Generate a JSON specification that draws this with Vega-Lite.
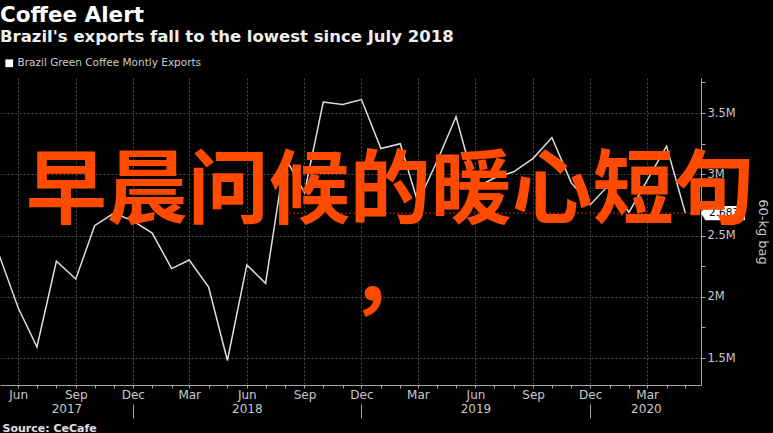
{
  "$schema": "https://vega.github.io/schema/vega-lite/v6.json",
  "width": 701,
  "height": 307,
  "autosize": {"type": "none"},
  "padding": {"left": 0, "top": 78, "right": 72, "bottom": 48},
  "background": "#000000",
  "config": {
    "view": {"stroke": null},
    "font": "DejaVu Sans",
    "axis": {"labelFont": "DejaVu Sans", "titleFont": "DejaVu Sans"}
  },
  "title": {
    "text": "Coffee Alert",
    "subtitle": "Brazil's exports fall to the lowest since July 2018",
    "anchor": "start",
    "frame": "group",
    "font": "DejaVu Sans",
    "fontSize": 21.5,
    "fontWeight": "bold",
    "color": "#ffffff",
    "subtitleFont": "DejaVu Sans",
    "subtitleFontSize": 16.5,
    "subtitleFontWeight": "bold",
    "subtitleColor": "#eeeeee",
    "subtitlePadding": 2,
    "offset": 13
  },
  "datasets": {
    "exports": [
      {"date": "2017-05-01", "bags": 2350000},
      {"date": "2017-06-01", "bags": 1910000},
      {"date": "2017-07-01", "bags": 1590000},
      {"date": "2017-08-01", "bags": 2290000},
      {"date": "2017-09-01", "bags": 2145000},
      {"date": "2017-10-01", "bags": 2580000},
      {"date": "2017-11-01", "bags": 2684000},
      {"date": "2017-12-01", "bags": 2620000},
      {"date": "2018-01-01", "bags": 2520000},
      {"date": "2018-02-01", "bags": 2230000},
      {"date": "2018-03-01", "bags": 2300000},
      {"date": "2018-04-01", "bags": 2080000},
      {"date": "2018-05-01", "bags": 1480000},
      {"date": "2018-06-01", "bags": 2260000},
      {"date": "2018-07-01", "bags": 2110000},
      {"date": "2018-08-01", "bags": 3140000},
      {"date": "2018-09-01", "bags": 2850000},
      {"date": "2018-10-01", "bags": 3590000},
      {"date": "2018-11-01", "bags": 3570000},
      {"date": "2018-12-01", "bags": 3610000},
      {"date": "2019-01-01", "bags": 3210000},
      {"date": "2019-02-01", "bags": 3250000},
      {"date": "2019-03-01", "bags": 2770000},
      {"date": "2019-04-01", "bags": 3110000},
      {"date": "2019-05-01", "bags": 3470000},
      {"date": "2019-06-01", "bags": 2890000},
      {"date": "2019-07-01", "bags": 2970000},
      {"date": "2019-08-01", "bags": 3020000},
      {"date": "2019-09-01", "bags": 3130000},
      {"date": "2019-10-01", "bags": 3300000},
      {"date": "2019-11-01", "bags": 2930000},
      {"date": "2019-12-01", "bags": 2750000},
      {"date": "2020-01-01", "bags": 2920000},
      {"date": "2020-02-01", "bags": 2690000},
      {"date": "2020-03-01", "bags": 2950000},
      {"date": "2020-04-01", "bags": 3230000},
      {"date": "2020-05-01", "bags": 2683000}
    ]
  },
  "layer": [
    {
      "data": {"name": "exports"},
      "mark": {"type": "line", "clip": true, "strokeWidth": 1.5},
      "encoding": {
        "x": {
          "field": "date",
          "type": "temporal",
          "scale": {
            "type": "utc",
            "domain": [
              {"year": 2017, "month": 5, "date": 3, "utc": true},
              {"year": 2020, "month": 5, "date": 26, "utc": true}
            ]
          },
          "axis": {
            "orient": "bottom",
            "tickCount": {"interval": "month", "step": 1},
            "labelExpr": "utcmonth(datum.value) % 3 == 2 ? utcFormat(datum.value, '%b') : ''",
            "grid": true,
            "gridOpacity": {"condition": {"test": "utcmonth(datum.value) % 3 == 2", "value": 1}, "value": 0},
            "gridColor": "#4a4a4a",
            "gridDash": [2, 2],
            "domainColor": "#a8a8a8",
            "tickColor": "#a8a8a8",
            "tickSize": 3,
            "labelColor": "#c8c8c8",
            "labelFontSize": 12,
            "labelPadding": 1,
            "labelFlush": false,
            "labelOverlap": false,
            "labelBound": false,
            "title": null
          }
        },
        "y": {
          "field": "bags",
          "type": "quantitative",
          "scale": {"domain": [1280000, 3786000], "zero": false, "nice": false},
          "axis": {
            "orient": "right",
            "values": [1500000, 1750000, 2000000, 2250000, 2500000, 2750000, 3000000, 3250000, 3500000, 3750000],
            "format": "~s",
            "labelExpr": "datum.value % 500000 == 0 ? datum.label : ''",
            "grid": true,
            "gridOpacity": {"condition": {"test": "datum.value % 500000 == 0", "value": 1}, "value": 0},
            "gridColor": "#4a4a4a",
            "gridDash": [2, 2],
            "domainColor": "#a8a8a8",
            "tickColor": "#a8a8a8",
            "tickSize": 4,
            "labelColor": "#c8c8c8",
            "labelFontSize": 11.5,
            "labelPadding": 2,
            "labelOverlap": false,
            "title": "60-kg bag",
            "titleAngle": 90,
            "titleColor": "#c8c8c8",
            "titleFontSize": 13,
            "titleFontWeight": "normal",
            "titlePadding": 20
          }
        },
        "color": {
          "datum": "Brazil Green Coffee Montly Exports",
          "type": "nominal",
          "scale": {"range": ["#dedede"]},
          "legend": {
            "orient": "none",
            "legendX": 4,
            "legendY": -20,
            "title": null,
            "labelColor": "#cccccc",
            "labelFont": "DejaVu Sans",
            "labelFontSize": 10.5,
            "labelLimit": 400,
            "labelOffset": 3,
            "padding": 0,
            "symbolType": "square",
            "symbolSize": 60,
            "symbolStrokeWidth": 0,
            "symbolFillColor": "#ffffff",
            "symbolStrokeColor": "#ffffff"
          }
        }
      }
    },
    {
      "data": {"values": [{}]},
      "mark": {"type": "rule", "color": "#a01818", "strokeWidth": 1.2, "strokeDash": [2, 2]},
      "encoding": {
        "x": {
          "datum": {"year": 2018, "month": 8, "date": 1, "utc": true},
          "type": "temporal",
          "axis": {
            "orient": "bottom",
            "values": [
              {"year": 2017, "month": 8, "date": 17, "utc": true},
              {"year": 2018, "month": 6, "date": 1, "utc": true},
              {"year": 2019, "month": 6, "date": 1, "utc": true},
              {"year": 2020, "month": 2, "date": 28, "utc": true}
            ],
            "labelExpr": "utcFormat(datum.value, '%Y')",
            "domain": false,
            "ticks": false,
            "tickSize": 0,
            "grid": false,
            "labelPadding": 18,
            "labelFontSize": 12,
            "labelColor": "#c8c8c8",
            "labelFlush": false,
            "labelOverlap": false,
            "title": null
          }
        },
        "x2": {"datum": {"year": 2020, "month": 5, "date": 26, "utc": true}},
        "y": {"datum": 2683000, "type": "quantitative", "axis": null}
      }
    },
    {
      "data": {"values": [{}]},
      "mark": {
        "type": "point",
        "shape": "M 0 0 L 0.1 -0.16 L 1 -0.16 L 1 0.16 L 0.1 0.16 Z",
        "filled": true,
        "color": "#ffffff",
        "opacity": 1,
        "size": 7744
      },
      "encoding": {
        "x": {
          "datum": {"year": 2020, "month": 5, "date": 26, "utc": true},
          "type": "temporal",
          "axis": {
            "orient": "bottom",
            "values": [
              {"year": 2017, "month": 12, "date": 1, "utc": true},
              {"year": 2018, "month": 12, "date": 1, "utc": true},
              {"year": 2019, "month": 12, "date": 1, "utc": true}
            ],
            "labels": false,
            "domain": false,
            "ticks": true,
            "tickSize": 14,
            "tickColor": "#a8a8a8",
            "offset": 19,
            "grid": false,
            "title": "Source: CeCafe",
            "titleAnchor": "start",
            "titleAlign": "left",
            "titleBaseline": "alphabetic",
            "titleX": 2,
            "titleY": 27,
            "titleFontSize": 11,
            "titleFontWeight": "bold",
            "titleColor": "#e0e0e0"
          }
        },
        "y": {"datum": 2683000, "type": "quantitative", "axis": null}
      }
    },
    {
      "data": {"values": [{}]},
      "mark": {"type": "text", "text": "2.683M", "align": "left", "baseline": "middle", "dx": 8, "fontSize": 10.5, "color": "#000000", "font": "DejaVu Sans"},
      "encoding": {
        "x": {"datum": {"year": 2020, "month": 5, "date": 26, "utc": true}, "type": "temporal", "axis": null},
        "y": {"datum": 2683000, "type": "quantitative", "axis": null}
      }
    },
    {
      "data": {"values": [{}]},
      "mark": {
        "type": "text",
        "text": ["早晨问候的暖心短句", "，"],
        "font": "Noto Sans CJK SC",
        "fontSize": 81,
        "fontWeight": "bold",
        "color": "#ff4a00",
        "align": "center",
        "baseline": "alphabetic",
        "lineHeight": 88
      },
      "encoding": {
        "x": {"datum": {"year": 2019, "month": 1, "date": 16, "utc": true}, "type": "temporal", "axis": null},
        "y": {"datum": 2651000, "type": "quantitative", "axis": null}
      }
    }
  ],
  "resolve": {"axis": {"x": "independent", "y": "independent"}}
}
